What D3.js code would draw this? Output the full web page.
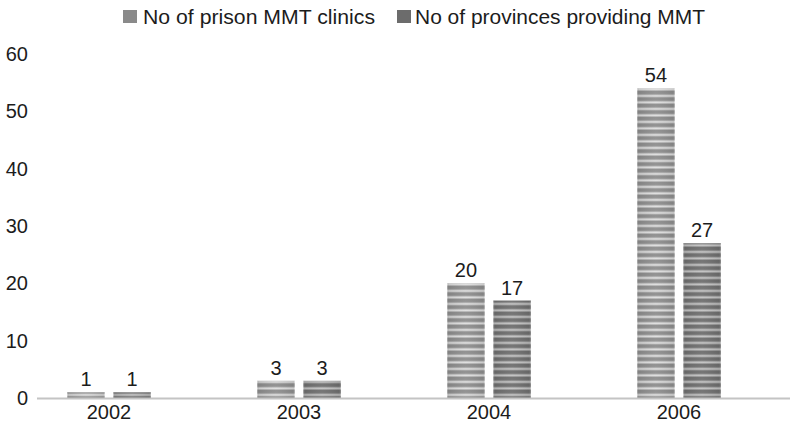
<!DOCTYPE html>
<html>
<head>
<meta charset="utf-8">
<script src="https://cdn.jsdelivr.net/npm/d3@7"></script>
<style>
  body { margin: 0; background: #fff; }
  text { font-family: "Liberation Sans", Arial, sans-serif; fill: #1c1c1c; }
</style>
</head>
<body>
<svg id="chart" width="790" height="427"></svg>
<script>
// chart data
const years = ["2002", "2003", "2004", "2006"];
const seriesNames = ["No of prison MMT clinics", "No of provinces providing MMT"];
const prisonClinics = [1, 3, 20, 54];
const provinces = [1, 3, 17, 27];
const yTicks = [0, 10, 20, 30, 40, 50, 60];

const svg = d3.select("#chart");
const fontSize = "20px";

// stripe colours per series: [dark, light]
const stripeColors = [["#8e8e8e", "#e0e0e0"], ["#6f6f6f", "#c4c4c4"]];
const swatchColors = ["#8a8a8a", "#6c6c6c"];

const defs = svg.append("defs");
stripeColors.forEach((c, i) => {
  let grad = defs.append("linearGradient")
    .attr("id", "stripe-grad-" + i)
    .attr("x1", 0).attr("y1", 0).attr("x2", 0).attr("y2", 1);
  grad.append("stop").attr("offset", "0%").attr("stop-color", c[0]);
  grad.append("stop").attr("offset", "45%").attr("stop-color", c[0]);
  grad.append("stop").attr("offset", "70%").attr("stop-color", c[1]);
  grad.append("stop").attr("offset", "85%").attr("stop-color", c[1]);
  grad.append("stop").attr("offset", "100%").attr("stop-color", c[0]);

  let pat = defs.append("pattern")
    .attr("id", "stripes-" + i)
    .attr("patternUnits", "userSpaceOnUse")
    .attr("width", 40).attr("height", 6.5);
  pat.append("rect")
    .attr("width", 40).attr("height", 6.5)
    .attr("fill", "url(#stripe-grad-" + i + ")");
});

// darker edges across bar width
let edge = defs.append("linearGradient").attr("id", "edge-shade")
  .attr("x1", 0).attr("y1", 0).attr("x2", 1).attr("y2", 0);
edge.append("stop").attr("offset", "0%").attr("stop-color", "#fff").attr("stop-opacity", 0.45);
edge.append("stop").attr("offset", "6%").attr("stop-color", "#000").attr("stop-opacity", 0.08);
edge.append("stop").attr("offset", "50%").attr("stop-color", "#fff").attr("stop-opacity", 0.05);
edge.append("stop").attr("offset", "94%").attr("stop-color", "#000").attr("stop-opacity", 0.08);
edge.append("stop").attr("offset", "100%").attr("stop-color", "#fff").attr("stop-opacity", 0.3);

const x = d3.scaleBand().domain(years).range([14, 774]).padding(0);
const x1 = d3.scaleBand().domain([0, 1]).range([-42, 42]).paddingInner(0.18).paddingOuter(0);
const y = d3.scaleLinear().domain([0, 60]).range([398, 54]);

// y tick labels (no axis line)
svg.append("g")
  .selectAll("text")
  .data(yTicks)
  .enter().append("text")
  .attr("x", 28)
  .attr("y", d => y(d))
  .attr("dy", "0.35em")
  .attr("text-anchor", "end")
  .style("font-size", fontSize)
  .text(d => d);

// bars
const groups = svg.append("g")
  .selectAll("g")
  .data(years)
  .enter().append("g")
  .attr("transform", d => "translate(" + (x(d) + x.bandwidth() / 2) + ",0)");

const barData = (d, i) => [prisonClinics[i], provinces[i]].map((v, s) => ({ v: v, s: s }));

groups.each(function (d, i) {
  let g = d3.select(this);
  let bars = barData(d, i);
  g.selectAll("rect.bar")
    .data(bars)
    .enter().append("rect")
    .attr("class", "bar")
    .attr("x", b => x1(b.s))
    .attr("width", x1.bandwidth())
    .attr("y", b => y(b.v))
    .attr("height", b => y(0) - y(b.v))
    .attr("fill", b => "url(#stripes-" + b.s + ")");
  g.selectAll("rect.shade")
    .data(bars)
    .enter().append("rect")
    .attr("class", "shade")
    .attr("x", b => x1(b.s))
    .attr("width", x1.bandwidth())
    .attr("y", b => y(b.v))
    .attr("height", b => y(0) - y(b.v))
    .attr("fill", "url(#edge-shade)");
  g.selectAll("text.val")
    .data(bars)
    .enter().append("text")
    .attr("class", "val")
    .attr("x", b => x1(b.s) + x1.bandwidth() / 2)
    .attr("y", b => y(b.v) - 6)
    .attr("text-anchor", "middle")
    .style("font-size", fontSize)
    .text(b => b.v);
});

// x axis
const xAxis = svg.append("g")
  .attr("transform", "translate(0," + y(0) + ")")
  .call(d3.axisBottom(x).tickSize(0).tickPadding(7));
xAxis.select(".domain")
  .attr("d", "M37,0.5H790")
  .attr("stroke", "#c4c4c4")
  .attr("stroke-width", 2);
xAxis.selectAll("text")
  .style("font-size", fontSize)
  .style("font-family", "'Liberation Sans', Arial, sans-serif")
  .attr("fill", "#1c1c1c");

// legend
const legendX = [123, 397];
const legendTextLen = [232, 290];
const legend = svg.append("g")
  .selectAll("g")
  .data(seriesNames)
  .enter().append("g")
  .attr("transform", (d, i) => "translate(" + legendX[i] + ",10)");
legend.append("rect")
  .attr("width", 14).attr("height", 13)
  .attr("fill", (d, i) => swatchColors[i]);
legend.append("text")
  .attr("x", (d, i) => i === 0 ? 20 : 18)
  .attr("y", 13.5)
  .attr("textLength", (d, i) => legendTextLen[i])
  .attr("lengthAdjust", "spacingAndGlyphs")
  .style("font-size", fontSize)
  .text(d => d);
</script>
</body>
</html>
